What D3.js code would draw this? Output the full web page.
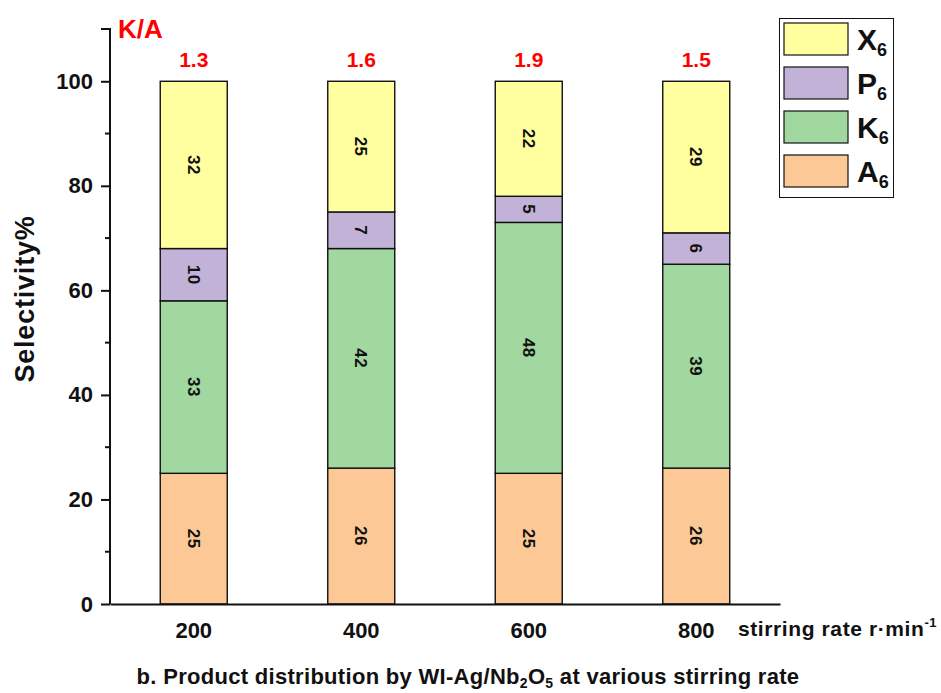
<!DOCTYPE html>
<html>
<head>
<meta charset="utf-8">
<script src="https://cdn.jsdelivr.net/npm/d3@7"></script>
<style>
  body { margin: 0; background: #fff; }
  svg { display: block; font-family: Arial, "Liberation Sans", sans-serif; }
</style>
</head>
<body>
<svg id="chart" width="941" height="693"></svg>
<script>
// Stirring rates (r/min) and product selectivity (%) per component
const categories = ["200", "400", "600", "800"];
const seriesNames = ["A6", "K6", "P6", "X6"];
const A6 = [25, 26, 25, 26];
const K6 = [33, 42, 48, 39];
const P6 = [10, 7, 5, 6];
const X6 = [32, 25, 22, 29];
const ratioKA = ["1.3", "1.6", "1.9", "1.5"];
const yTicks = [0, 20, 40, 60, 80, 100];
const yMinorTicks = [10, 30, 50, 70, 90];

const colors = { A6: "#FCC996", K6: "#A0D89F", P6: "#C2B2D7", X6: "#FFFFA0" };
const FONT = "Arial, 'Liberation Sans', sans-serif";

const svg = d3.select("#chart");
const margin = { left: 110, right: 161, top: 29, bottom: 89 };
const W = 941, H = 693;

const x = d3.scaleBand().domain(categories)
  .range([margin.left, W - margin.right])
  .paddingInner(0.6).paddingOuter(0.3);
const y = d3.scaleLinear().domain([0, 110]).range([H - margin.bottom, margin.top]);

const rows = categories.map((c, i) => ({ cat: c, A6: A6[i], K6: K6[i], P6: P6[i], X6: X6[i] }));
const stacked = d3.stack().keys(seriesNames)(rows);

// stacked bars
const layers = svg.append("g").selectAll("g").data(stacked).join("g")
  .attr("fill", d => colors[d.key]);
layers.selectAll("rect").data(d => d).join("rect")
  .attr("x", d => x(d.data.cat))
  .attr("y", d => y(d[1]))
  .attr("width", x.bandwidth())
  .attr("height", d => y(d[0]) - y(d[1]))
  .attr("stroke", "#111").attr("stroke-width", 1.4);

// segment value labels, rotated to read top-down
layers.selectAll("text").data(d => d.map(v => ({ v, key: d.key }))).join("text")
  .attr("transform", d => `translate(${x(d.v.data.cat) + x.bandwidth() / 2},${y((d.v[0] + d.v[1]) / 2)}) rotate(90)`)
  .attr("text-anchor", "middle").attr("dy", "0.35em")
  .attr("font-size", 17).attr("font-weight", "bold").attr("fill", "#111")
  .attr("letter-spacing", 0.5)
  .text(d => d.v.data[d.key]);

// y axis with major and minor ticks
const yAxis = svg.append("g").attr("transform", `translate(${margin.left},0)`)
  .call(d3.axisLeft(y).tickValues(yTicks).tickSize(9).tickPadding(8));
yAxis.select(".domain").attr("d", `M-9,${y(110)}H0V${y(0)}`).attr("stroke-width", 2).attr("stroke", "#111");
yAxis.selectAll(".tick line").attr("stroke-width", 2).attr("stroke", "#111");
yAxis.selectAll(".tick text").attr("font-size", 22).attr("font-weight", "bold")
  .attr("font-family", FONT).attr("fill", "#111");
svg.append("g").selectAll("line").data(yMinorTicks).join("line")
  .attr("x1", margin.left - 5).attr("x2", margin.left)
  .attr("y1", d => y(d)).attr("y2", d => y(d))
  .attr("stroke", "#111").attr("stroke-width", 2);

// x axis
const xAxis = svg.append("g").attr("transform", `translate(0,${y(0)})`)
  .call(d3.axisBottom(x).tickSize(0).tickPadding(18));
xAxis.select(".domain").attr("stroke-width", 2).attr("stroke", "#111");
xAxis.selectAll(".tick text").attr("font-size", 22).attr("font-weight", "bold")
  .attr("font-family", FONT).attr("fill", "#111");

// x axis unit
const unit = svg.append("text").attr("x", 738).attr("y", 636)
  .attr("font-size", 21).attr("font-weight", "bold").attr("fill", "#111")
  .attr("letter-spacing", 0.6);
unit.append("tspan").text("stirring rate r·min");
unit.append("tspan").attr("font-size", 13).attr("dy", -9).text("-1");

// y axis title
svg.append("text").attr("transform", `translate(34,299) rotate(-90)`)
  .attr("text-anchor", "middle").attr("font-size", 27).attr("font-weight", "bold")
  .attr("letter-spacing", 0.8)
  .attr("fill", "#111").text("Selectivity%");

// K/A ratios above each bar
svg.append("text").attr("x", margin.left + 8).attr("y", 38)
  .attr("font-size", 26).attr("font-weight", "bold").attr("fill", "#FF0000").text("K/A");
svg.append("g").selectAll("text").data(categories).join("text")
  .attr("x", d => x(d) + x.bandwidth() / 2).attr("y", 67)
  .attr("text-anchor", "middle").attr("font-size", 21).attr("font-weight", "bold")
  .attr("fill", "#FF0000").text((d, i) => ratioKA[i]);

// legend
const legend = svg.append("g");
legend.append("rect").attr("x", 779.5).attr("y", 18.5).attr("width", 114).attr("height", 179)
  .attr("fill", "#fff").attr("stroke", "#111").attr("stroke-width", 1);
const legendOrder = ["X6", "P6", "K6", "A6"];
const li = legend.selectAll("g.item").data(legendOrder).join("g")
  .attr("transform", (d, i) => `translate(784,${23 + i * 44})`);
li.append("rect").attr("width", 64).attr("height", 32)
  .attr("fill", d => colors[d]).attr("stroke", "#111").attr("stroke-width", 1.2);
const lt = li.append("text").attr("x", 73).attr("y", 27)
  .attr("font-size", 30).attr("font-weight", "bold").attr("fill", "#111");
lt.append("tspan").text(d => d[0]);
lt.append("tspan").attr("font-size", 18).attr("dy", 6).text(d => d.slice(1));

// caption
const cap = svg.append("text").attr("x", 468).attr("y", 684).attr("text-anchor", "middle")
  .attr("font-size", 22).attr("font-weight", "bold").attr("fill", "#111")
  .attr("letter-spacing", 0.3);
cap.append("tspan").text("b. Product distribution by WI-Ag/Nb");
cap.append("tspan").attr("font-size", 14).attr("dy", 4).text("2");
cap.append("tspan").attr("dy", -4).text("O");
cap.append("tspan").attr("font-size", 14).attr("dy", 4).text("5");
cap.append("tspan").attr("dy", -4).text(" at various stirring rate");
</script>
</body>
</html>
